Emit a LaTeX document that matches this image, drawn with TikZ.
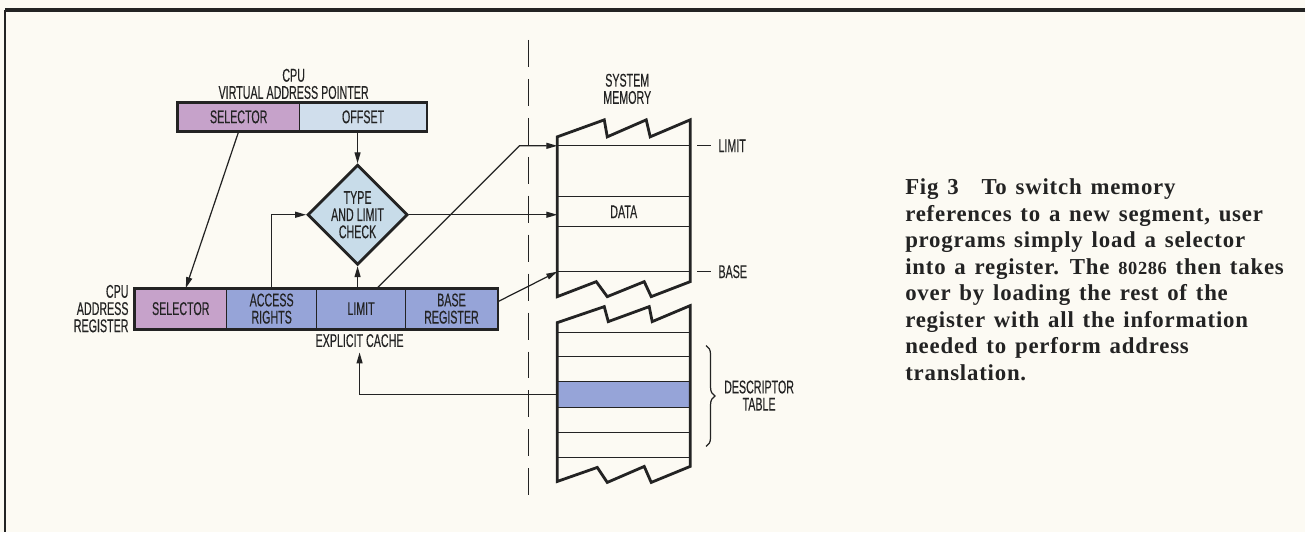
\documentclass[tikz,border=0pt]{standalone}
\usepackage{fontspec}
\setmainfont{Liberation Serif}
\newfontfamily\cond[FakeStretch=0.58,FakeBold=0.25]{Liberation Sans}
\newfontfamily\capfont[LetterSpace=3.5,WordSpace=1.35]{Liberation Serif}
\usetikzlibrary{arrows.meta,shapes.geometric,decorations.pathreplacing}

\definecolor{bgcol}{RGB}{252,250,243}
\definecolor{inkcol}{RGB}{35,35,35}
\definecolor{selcol}{RGB}{198,162,202}
\definecolor{offcol}{RGB}{208,222,236}
\definecolor{cachecol}{RGB}{150,164,216}
\definecolor{diacol}{RGB}{200,220,233}

\begin{document}
\begin{tikzpicture}[x=0.02cm, y=-0.02cm,
    lbl/.style={font=\cond\fontsize{10.5}{9.8}\selectfont, text=inkcol, align=center, inner sep=0pt},
    cell/.style={lbl, draw=inkcol, line width=0.6pt, minimum height=0.56cm},
    conn/.style={draw=inkcol, line width=0.7pt, -{Triangle[length=2.2mm,width=1.2mm]}},
    thinline/.style={draw=inkcol, line width=0.7pt},
    heavy/.style={draw=inkcol, line width=1.6pt, line join=miter}]

    % Background and frame
    \fill[bgcol] (0,0) rectangle (1307,533);
    \draw[inkcol, line width=1.8pt] (1307,10) -- (5,10);
    \draw[inkcol, line width=1.2pt] (5,10) -- (5,533);

    % Virtual address pointer
    \node[cell, fill=selcol, minimum width=2.44cm] (vpsel) at (239,117) {SELECTOR};
    \node[cell, fill=offcol, minimum width=2.54cm] (vpoff) at (363.5,117) {OFFSET};
    \draw[heavy] (vpsel.north west) rectangle (vpoff.south east);
    \node[lbl] (vptitle) at (294,84) {CPU\\VIRTUAL ADDRESS POINTER};

    % Address register with its explicit cache
    \node[cell, fill=selcol, minimum width=1.84cm, minimum height=0.8cm] (arsel) at (181,309) {SELECTOR};
    \node[cell, fill=cachecol, minimum width=1.8cm, minimum height=0.8cm] (aracc) at (272,309) {ACCESS\\RIGHTS};
    \node[cell, fill=cachecol, minimum width=1.78cm, minimum height=0.8cm] (arlim) at (361.5,309) {LIMIT};
    \node[cell, fill=cachecol, minimum width=1.84cm, minimum height=0.8cm] (arbase) at (452,309) {BASE\\REGISTER};
    \draw[heavy] (arsel.north west) rectangle (arbase.south east);
    \node[lbl, anchor=east, align=right] (artitle) at (129,309) {CPU\\ADDRESS\\REGISTER};
    \node[lbl] (cache) at (360,341) {EXPLICIT CACHE};

    % Check
    \node[diamond, draw=inkcol, line width=1.6pt, fill=diacol, lbl, minimum width=2cm, minimum height=1.88cm] (check) at (358,215) {TYPE\\AND LIMIT\\CHECK};

    % Separator
    \draw[inkcol, line width=0.8pt, dash pattern=on 5.4mm off 2.4mm] (529,40) -- (529,497);

    % System memory, upper block
    \foreach \y in {146,197,227,272}
        \draw[thinline] (558,\y) -- (691,\y);
    \draw[heavy] (558,137) -- (605,120) -- (608,137) -- (647,120) -- (651,137) -- (691,120)
        -- (691,282) -- (652,297) -- (645,282) -- (608,297) -- (597,282) -- (558,297) -- cycle;
    \node[lbl] (data) at (624.5,212) {DATA};
    \node[lbl] (sysmem) at (628,89) {SYSTEM\\MEMORY};
    \node[lbl, anchor=west] (limlbl) at (719,146) {LIMIT};
    \node[lbl, anchor=west] (baselbl) at (719,272) {BASE};
    \draw[thinline] (698,146) -- (712,146);
    \draw[thinline] (698,272) -- (712,272);

    % Descriptor table, lower block
    \node[fill=cachecol, inner sep=0pt, minimum width=2.66cm, minimum height=0.52cm] (desc) at (624.5,395) {};
    \foreach \y in {333,357,382,408,433,458}
        \draw[thinline] (558,\y) -- (691,\y);
    \draw[heavy] (558,323) -- (605,307) -- (609,322) -- (650,307) -- (653,322) -- (691,306)
        -- (691,467) -- (652,483) -- (645,467) -- (608,483) -- (598,468) -- (558,482) -- cycle;
    \draw[thinline, decorate, decoration={brace, amplitude=5pt}] (707,346) -- (707,447);
    \node[lbl] (desclbl) at (760,396) {DESCRIPTOR\\TABLE};

    % Connectors
    \coordinate (limbend) at (520,146);
    \coordinate (limrow) at (558,146);
    \coordinate (datarow) at (558,215);
    \coordinate (baserow) at (558,272);
    \draw[conn] (vpsel.south) -- ([xshift=0.1cm]arsel.north);
    \draw[conn] (check.north |- vpoff.south) -- (check.north);
    \draw[conn] (aracc.north) |- (check.west);
    \draw[conn] (check.south |- arlim.north) -- (check.south);
    \draw[conn] ([xshift=0.32cm]arlim.north) -- (limbend) -- (limrow);
    \draw[conn] (check.east) -- (datarow);
    \draw[conn] ([yshift=0.14cm]arbase.east) -- (baserow);
    \draw[conn] (desc.west) -| ([yshift=-0.1cm]cache.south);

    % Caption
    \node[anchor=north west, inner sep=0pt, align=left, text=inkcol,
        font=\capfont\bfseries\fontsize{13}{15.1}\selectfont] (caption) at (906,179)
        {Fig 3\quad To switch memory\\
         references to a new segment, user\\
         programs simply load a selector\\
         into a register. The {\fontsize{10.5}{15.1}\selectfont 80286} then takes\\
         over by loading the rest of the\\
         register with all the information\\
         needed to perform address\\
         translation.};

\end{tikzpicture}
\end{document}
